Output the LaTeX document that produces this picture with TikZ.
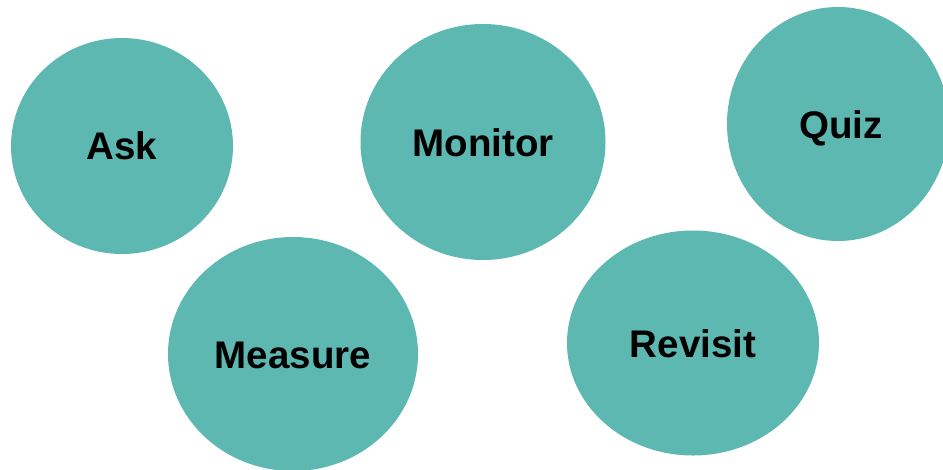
\documentclass[tikz,border=0pt]{standalone}
\usepackage{fontspec}
\setmainfont{Liberation Sans}
\usetikzlibrary{shapes.geometric}
\definecolor{teal1}{HTML}{5DB8B2}
\tikzset{
  blob/.style={ellipse, fill=teal1, draw=none, inner sep=0pt},
  lbl/.style={font=\fontsize{38.5}{42}\selectfont\bfseries, text=black, inner sep=0pt}
}
\begin{document}
\begin{tikzpicture}[x=1pt,y=-1pt]
\useasboundingbox (0,0) rectangle (943,469);
\clip (0,0) rectangle (943,469);
\node[blob, minimum width=222pt, minimum height=216pt] (ask) at (122,146) {};
\node[blob, minimum width=245pt, minimum height=236pt] (monitor) at (483,142) {};
\node[blob, minimum width=222pt, minimum height=234pt] (quiz) at (838,124) {};
\node[blob, minimum width=250pt, minimum height=234pt] (measure) at (293,354) {};
\node[blob, minimum width=252pt, minimum height=225pt] (revisit) at (693,343) {};
\node[lbl] (askt) at (ask.center) {Ask};
\node[lbl] (monitort) at ([yshift=-1pt]monitor.center) {Monitor};
\node[lbl] (quizt) at ([xshift=3pt,yshift=-4pt]quiz.center) {Quiz};
\node[lbl] (measuret) at ([yshift=-1pt]measure.center) {Measure};
\node[lbl] (revisitt) at ([yshift=-1pt]revisit.center) {Revisit};
\end{tikzpicture}
\end{document}
